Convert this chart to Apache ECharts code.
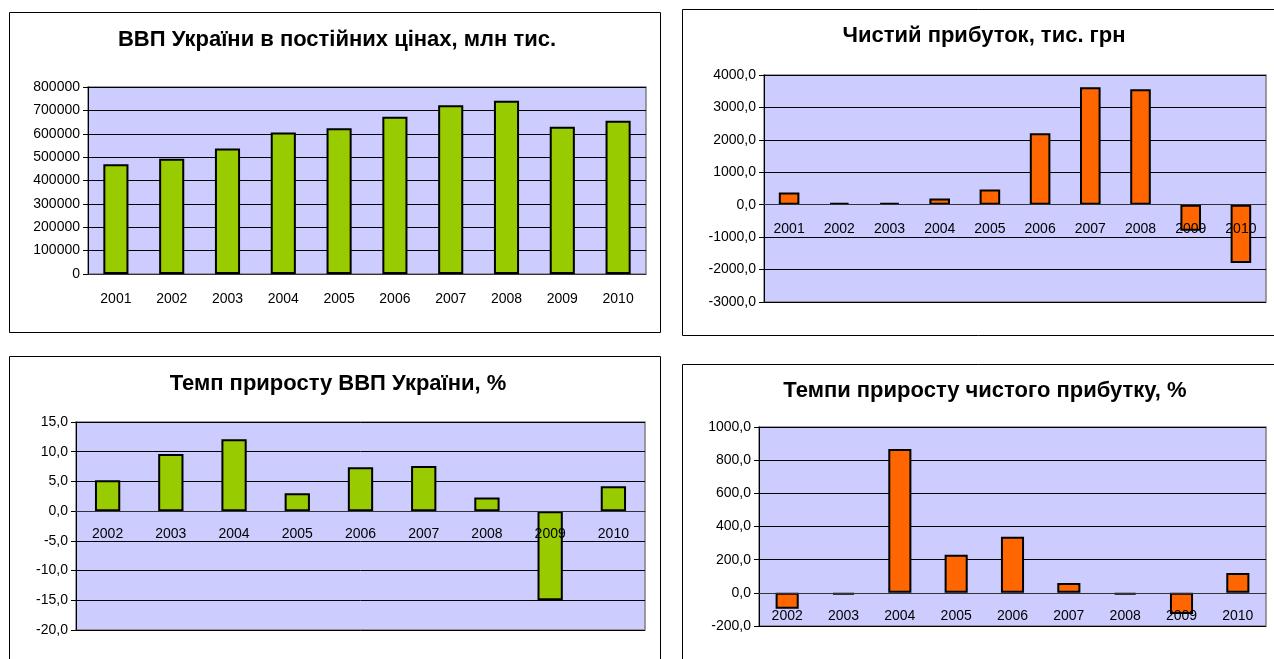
<!DOCTYPE html>
<html>
<head>
<meta charset="utf-8">
<script src="https://cdn.jsdelivr.net/npm/echarts@6/dist/echarts.min.js"></script>
<style>
  html, body { margin: 0; padding: 0; background: #fff; }
  #chart { width: 1274px; height: 659px; }
</style>
</head>
<body>
<div id="chart"></div>
<script>
// data
const years1 = ["2001", "2002", "2003", "2004", "2005", "2006", "2007", "2008", "2009", "2010"];
const years2 = ["2002", "2003", "2004", "2005", "2006", "2007", "2008", "2009", "2010"];
const gdp = [469000, 493000, 537000, 605000, 623000, 673000, 722000, 741000, 630000, 656000];
const profit = [380, 60, 55, 190, 470, 2200, 3620, 3560, -800, -1800];
const gdpGrowth = [5.2, 9.6, 12.1, 3.0, 7.4, 7.6, 2.3, -15.0, 4.2];
const profitGrowth = [-96, -12, 867, 229, 338, 60, -12, -127, 120];

const font = "'Liberation Sans', Arial, sans-serif";
const comma1 = (v) => v.toFixed(1).replace(".", ",");

const chart = echarts.init(document.getElementById("chart"));

const titleStyle = { fontFamily: font, fontSize: 22, fontWeight: "bold", color: "#000" };

const makeTitle = (text, x, y) => ({
  text,
  left: x,
  top: y,
  textAlign: "center",
  padding: 0,
  textStyle: titleStyle,
});

// grids: [left, top, width, height]
const grids = [
  [88, 87, 558, 187],
  [764, 75, 502, 227],
  [76, 422, 569, 208],
  [759, 427, 507, 199],
];
const yRanges = [
  [0, 800000, 100000],
  [-3000, 4000, 1000],
  [-20, 15, 5],
  [-200, 1000, 200],
];

const makeGrid = ([left, top, width, height]) => ({
  left, top, width, height,
  show: true,
  backgroundColor: "#CCCCFF",
  borderColor: "#808080",
  borderWidth: 1.5,
});

// category axis sits on the zero line (shifted up from the bottom of the grid)
const makeX = (idx, data, margin) => {
  const [min, max] = yRanges[idx];
  const h = grids[idx][3];
  return {
    type: "category",
    gridIndex: idx,
    data,
    z: 5,
    offset: -h * (0 - min) / (max - min),
    axisLine: { show: true, onZero: false, lineStyle: { color: "#333", width: 1 } },
    axisTick: { length: 5, lineStyle: { color: "#333" } },
    axisLabel: { color: "#000", fontFamily: font, fontSize: 14, margin },
  };
};

const makeY = (idx, formatter) => ({
  type: "value",
  gridIndex: idx,
  min: yRanges[idx][0],
  max: yRanges[idx][1],
  interval: yRanges[idx][2],
  axisLine: { show: true, onZero: false, lineStyle: { color: "#000", width: 1 } },
  axisTick: { show: true, length: 5, lineStyle: { color: "#000" } },
  splitLine: { lineStyle: { color: "#000", width: 1 } },
  axisLabel: { color: "#000", fontFamily: font, fontSize: 14, margin: 8, formatter },
});

const makeBar = (idx, data, color, width) => ({
  type: "bar",
  xAxisIndex: idx,
  yAxisIndex: idx,
  data,
  barWidth: width,
  itemStyle: { color, borderColor: "#000", borderWidth: 2 },
  silent: true,
});

const frame = (x, y, w, h) => ({
  type: "rect",
  shape: { x, y, width: w, height: h },
  style: { fill: "none", stroke: "#000", lineWidth: 1 },
  z: 0,
  silent: true,
});

const option = {
  animation: false,
  graphic: [
    frame(9.5, 12.5, 651, 320),
    frame(682.5, 9.5, 700, 326),
    frame(9.5, 356.5, 651, 400),
    frame(682.5, 364.5, 700, 400),
  ],
  title: [
    makeTitle("ВВП України в постійних цінах, млн тис.", 337, 29),
    makeTitle("Чистий прибуток, тис. грн", 984, 25),
    makeTitle("Темп приросту ВВП України, %", 338, 373),
    makeTitle("Темпи приросту чистого прибутку, %", 985, 380),
  ],
  grid: grids.map(makeGrid),
  xAxis: [
    makeX(0, years1, 18),
    makeX(1, years1, 17),
    makeX(2, years2, 16),
    makeX(3, years2, 16),
  ],
  yAxis: [
    makeY(0, (v) => String(v)),
    makeY(1, comma1),
    makeY(2, comma1),
    makeY(3, comma1),
  ],
  series: [
    makeBar(0, gdp, "#99CC00", "45%"),
    makeBar(1, profit, "#FF6600", "41%"),
    makeBar(2, gdpGrowth, "#99CC00", "40%"),
    makeBar(3, profitGrowth, "#FF6600", "41%"),
  ],
};

chart.setOption(option);
</script>
</body>
</html>
